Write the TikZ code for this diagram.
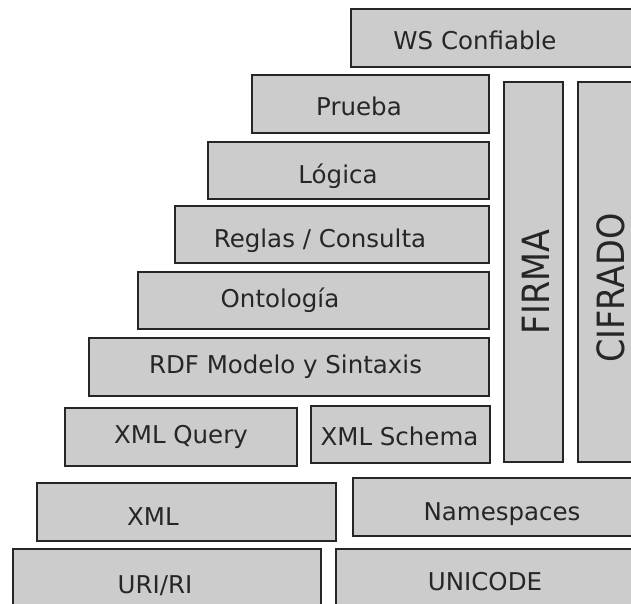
\documentclass[tikz,border=0pt]{standalone}
\usepackage{fontspec}
\setmainfont{DejaVu Sans}
\begin{document}
\begin{tikzpicture}[x=1pt,y=-1pt,
  layer/.style={draw=black!85, line width=1.6pt, fill=gray!40, inner sep=0pt},
  lbl/.style={font=\fontsize{24.5}{24.5}\selectfont, text=black!85, anchor=base, inner sep=0pt},
  vlbl/.style={font=\fontsize{33.5}{33.5}\selectfont, text=black!85, rotate=90, inner sep=0pt}]
\path[use as bounding box] (0,0) rectangle (631,604);
\clip (0,0) rectangle (631,604);
% boxes
\node[layer, minimum width=294pt, minimum height=58pt] (ws) at (498,38) {};
\node[layer, minimum width=237pt, minimum height=58pt] (prueba) at (370.5,104) {};
\node[layer, minimum width=281pt, minimum height=57pt] (logica) at (348.5,170.5) {};
\node[layer, minimum width=314pt, minimum height=57pt] (reglas) at (332,234.5) {};
\node[layer, minimum width=351pt, minimum height=57pt] (onto) at (313.5,300.5) {};
\node[layer, minimum width=400pt, minimum height=58pt] (rdf) at (289,367) {};
\node[layer, minimum width=232pt, minimum height=58pt] (xmlq) at (181,437) {};
\node[layer, minimum width=179pt, minimum height=57pt] (xmls) at (400.5,434.5) {};
\node[layer, minimum width=59pt, minimum height=380pt] (firma) at (533.5,272) {};
\node[layer, minimum width=67pt, minimum height=380pt] (cifrado) at (611.5,272) {};
\node[layer, minimum width=299pt, minimum height=58pt] (xml) at (186.5,512) {};
\node[layer, minimum width=292pt, minimum height=58pt] (ns) at (499,507) {};
\node[layer, minimum width=308pt, minimum height=71pt] (uri) at (167,584.5) {};
\node[layer, minimum width=309pt, minimum height=71pt] (unicode) at (490.5,584.5) {};
% labels
\node[lbl] (ws-t) at (475,50) {WS Confiable};
\node[lbl] (prueba-t) at (359,116) {Prueba};
\node[lbl] (logica-t) at (338,183) {Lógica};
\node[lbl] (reglas-t) at (320,247) {Reglas / Consulta};
\node[lbl] (onto-t) at (280,307) {Ontología};
\node[lbl] (rdf-t) at (285.5,373) {RDF Modelo y Sintaxis};
\node[lbl] (xmlq-t) at (181,443) {XML Query};
\node[lbl] (xmls-t) at (399.5,445) {XML Schema};
\node[lbl] (xml-t) at (153,525) {XML};
\node[lbl] (ns-t) at (502,520) {Namespaces};
\node[lbl] (uri-t) at (155,593) {URI/RI};
\node[lbl] (unicode-t) at (485,590) {UNICODE};
\node[vlbl] (firma-t) at (536,282) {\scalebox{1}[1.12]{FIRMA}};
\node[vlbl] (cifrado-t) at (611,288) {\scalebox{1}[1.12]{CIFRADO}};
\end{tikzpicture}
\end{document}
